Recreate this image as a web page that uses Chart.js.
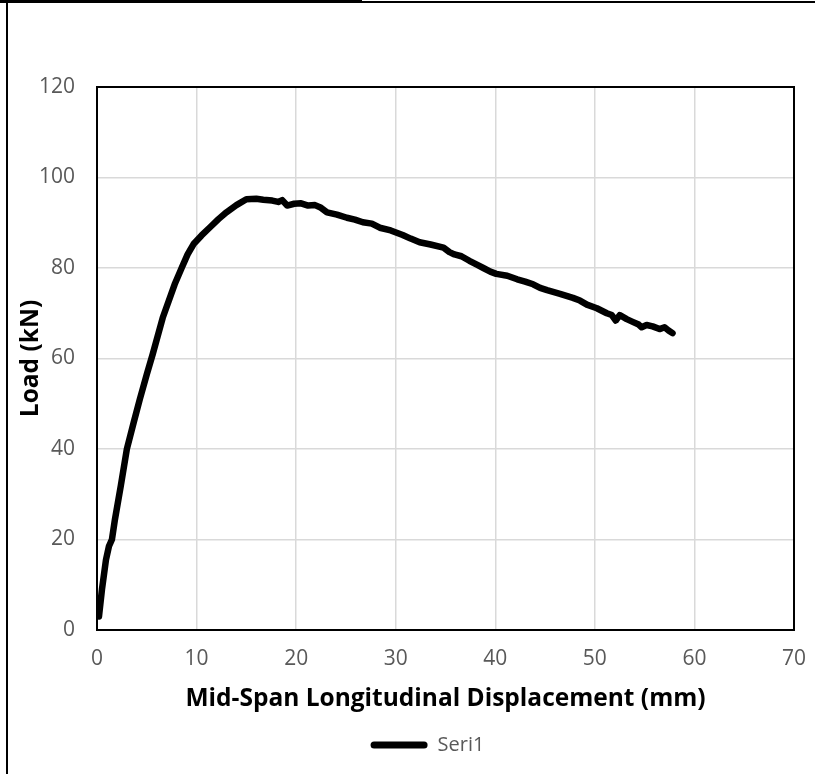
<!DOCTYPE html>
<html>
<head>
<meta charset="utf-8">
<script src="https://cdn.jsdelivr.net/npm/chart.js@4"></script>
<style>
html,body{margin:0;padding:0;background:#fff;}
#wrap{width:815px;height:774px;position:relative;}
canvas{display:block;}
</style>
</head>
<body>
<div id="wrap"><canvas id="c" width="815" height="774"></canvas></div>
<script>
// ---- data ----
const seriesName = 'Seri1';
const xTitle = 'Mid-Span Longitudinal Displacement (mm)';
const yTitle = 'Load (kN)';
const xTicks = [0, 10, 20, 30, 40, 50, 60, 70];
const yTicks = [0, 20, 40, 60, 80, 100, 120];
const displacement = [
  0.2, 0.5, 0.9, 1.2, 1.5, 1.8, 2.4, 3.0, 3.7, 4.3,
  5.0, 5.6, 6.6, 7.8, 8.5, 9.1, 9.7, 10.5, 11.3, 12.2,
  13.0, 14.0, 15.0, 16.0, 16.7, 17.6, 18.2, 18.6, 19.1, 19.8,
  20.5, 21.2, 21.9, 22.5, 23.1, 24.1, 25.1, 25.9, 26.7, 27.6,
  28.4, 29.5, 30.7, 31.5, 32.4, 33.5, 34.8, 35.4, 35.9, 36.6,
  37.4, 38.1, 38.8, 39.5, 40.1, 41.2, 42.2, 43.0, 43.8, 44.5,
  45.2, 46.5, 47.8, 48.5, 49.2, 50.2, 51.2, 51.7, 52.1, 52.5,
  53.2, 53.8, 54.4, 54.7, 55.2, 55.8, 56.5, 57.0, 57.4, 57.8
];
const load = [
  3.0, 9.0, 15.5, 18.5, 20.0, 24.4, 32.0, 40.0, 46.0, 51.0,
  56.5, 61.0, 69.0, 76.4, 80.0, 83.0, 85.3, 87.2, 88.9, 90.8,
  92.3, 93.9, 95.2, 95.3, 95.1, 94.9, 94.6, 95.0, 93.8, 94.2,
  94.3, 93.8, 93.9, 93.3, 92.3, 91.8, 91.1, 90.7, 90.1, 89.8,
  88.9, 88.3, 87.3, 86.5, 85.7, 85.2, 84.5, 83.5, 83.0, 82.6,
  81.6, 80.8, 80.0, 79.2, 78.7, 78.3, 77.5, 77.0, 76.4, 75.6,
  75.1, 74.3, 73.4, 72.8, 71.9, 71.1, 70.0, 69.6, 68.4, 69.6,
  68.7, 68.1, 67.5, 66.9, 67.4, 67.1, 66.5, 66.9, 66.2, 65.6
];

const points = displacement.map((x, i) => ({x: x, y: load[i]}));
const tickFont = {family: '"Open Sans", sans-serif', size: 21};
const legendFont = {family: '"Open Sans", sans-serif', size: 20};
const titleFont = {family: '"Open Sans", sans-serif', size: 24.5, weight: 'bold'};

// plot box + outer frame decoration
const framePlugin = {
  id: 'frame',
  afterLayout(chart) {
    // Excel places the legend slightly left of the plot-area centre
    if (chart.legend) { chart.legend.right -= 36; }
  },
  beforeDraw(chart) {
    const ctx = chart.ctx;
    ctx.save();
    ctx.fillStyle = '#fff';
    ctx.fillRect(0, 0, chart.width, chart.height);
    ctx.fillStyle = '#000';
    ctx.fillRect(0, 0, 362, 3);
    ctx.fillRect(362, 1, chart.width - 362, 2);
    ctx.fillRect(6, 0, 2, chart.height);
    ctx.restore();
  },
  beforeDatasetsDraw(chart) {
    const a = chart.chartArea;
    const ctx = chart.ctx;
    ctx.save();
    ctx.strokeStyle = '#000';
    ctx.lineWidth = 2;
    ctx.strokeRect(a.left, a.top, a.right - a.left, a.bottom - a.top);
    ctx.restore();
  }
};

new Chart(document.getElementById('c'), {
  type: 'scatter',
  data: {
    datasets: [{
      label: seriesName,
      data: points,
      showLine: true,
      borderColor: '#000',
      backgroundColor: '#000',
      borderWidth: 6.5,
      pointRadius: 0,
      pointHoverRadius: 0,
      tension: 0,
      borderJoinStyle: 'round',
      borderCapStyle: 'round'
    }]
  },
  options: {
    responsive: false,
    animation: false,
    layout: {padding: {top: 87, right: 21, bottom: 9, left: 0}},
    plugins: {
      tooltip: {enabled: false},
      legend: {
        position: 'bottom',
        fullSize: false,
        labels: {
          font: legendFont,
          color: '#595959',
          boxWidth: 57,
          boxHeight: 7,
          useBorderRadius: true,
          borderRadius: 3.5,
          padding: 10,
          generateLabels(chart) {
            return [{
              text: seriesName,
              fillStyle: '#000',
              strokeStyle: '#000',
              lineWidth: 0,
              fontColor: '#595959',
              borderRadius: 3.5,
              datasetIndex: 0
            }];
          }
        }
      }
    },
    scales: {
      x: {
        type: 'linear',
        min: xTicks[0],
        max: xTicks[xTicks.length - 1],
        afterBuildTicks(scale) { scale.ticks = xTicks.map(v => ({value: v})); },
        afterFit(scale) { scale.height = 95; scale.paddingLeft = 0; scale.paddingRight = 0; },
        ticks: {font: tickFont, color: '#595959', padding: 16},
        grid: {color: '#d9d9d9', lineWidth: 1.5, drawTicks: false},
        border: {display: false},
        title: {display: true, text: xTitle, font: titleFont, color: '#000', padding: {top: 0, bottom: 11}}
      },
      y: {
        type: 'linear',
        min: yTicks[0],
        max: yTicks[yTicks.length - 1],
        afterBuildTicks(scale) { scale.ticks = yTicks.map(v => ({value: v})); },
        afterFit(scale) { scale.width = 97; scale.paddingTop = 0; scale.paddingBottom = 0; },
        ticks: {font: tickFont, color: '#595959', padding: 22},
        grid: {color: '#d9d9d9', lineWidth: 1.5, drawTicks: false},
        border: {display: false},
        title: {display: true, text: yTitle, font: titleFont, color: '#000', padding: {top: 16, bottom: 0}}
      }
    }
  },
  plugins: [framePlugin]
});
</script>
</body>
</html>
